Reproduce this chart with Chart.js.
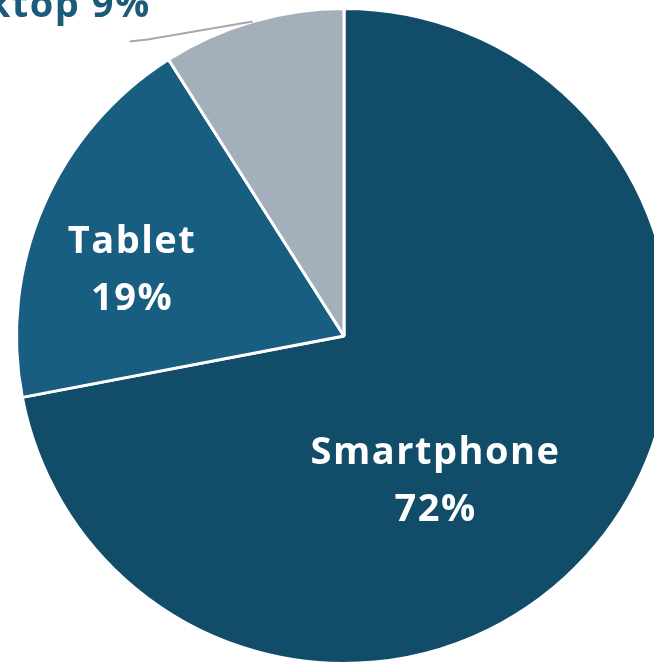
<!DOCTYPE html>
<html>
<head>
<meta charset="utf-8">
<script src="https://cdn.jsdelivr.net/npm/chart.js@4.4.1/dist/chart.umd.min.js"></script>
<style>
  html, body { margin: 0; padding: 0; background: #fff; overflow: hidden; width: 654px; height: 662px; }
  #wrap { position: absolute; left: 0; top: 0; width: 688px; height: 672px; }
</style>
</head>
<body>
<div id="wrap"><canvas id="chart-device"></canvas></div>
<script>
const categories = ['Smartphone', 'Tablet', 'Desktop'];
const shares = [72, 19, 9];
const sliceColors = ['#114c69', '#175e80', '#a3afbb'];

// where each label sits: angle (deg clockwise from top) and fraction of radius
const labelPlaces = [
    { angle: 146, dist: 0.50, inside: true },
    { angle: 289.6, dist: 0.687, inside: true },
    { angle: null, dist: 0, inside: false }
];

const sliceLabels = {
    id: 'sliceLabels',
    afterDatasetsDraw(chart) {
        const ctx = chart.ctx;
        const arcs = chart.getDatasetMeta(0).data;
        ctx.save();
        ctx.font = '700 38px "Open Sans", sans-serif';
        ctx.letterSpacing = '1.5px';
        arcs.forEach((arc, i) => {
            const cx = arc.x, cy = arc.y, r = arc.outerRadius;
            const place = labelPlaces[i];
            if (place.inside) {
                const a = place.angle * Math.PI / 180;
                const x = cx + Math.sin(a) * r * place.dist;
                const y = cy - Math.cos(a) * r * place.dist;
                ctx.fillStyle = '#ffffff';
                ctx.textAlign = 'center';
                ctx.textBaseline = 'alphabetic';
                ctx.fillText(categories[i], x, y - 8);
                ctx.fillText(shares[i] + '%', x, y + 49);
            } else {
                const mid = (arc.startAngle + arc.endAngle) / 2;
                const sx = cx + Math.cos(mid) * r;
                const sy = cy + Math.sin(mid) * r;
                const ex = sx - 105, ey = sy + 18;
                ctx.strokeStyle = '#a8a8a8';
                ctx.lineWidth = 2;
                ctx.beginPath();
                ctx.moveTo(sx, sy);
                ctx.lineTo(ex, ey);
                ctx.lineTo(ex - 18, ey + 2);
                ctx.stroke();
                ctx.fillStyle = '#1b5a79';
                ctx.textAlign = 'right';
                ctx.textBaseline = 'alphabetic';
                ctx.fillText(categories[i] + ' ' + shares[i] + '%', ex + 3, ey - 23);
            }
        });
        ctx.restore();
    }
};

new Chart(document.getElementById('chart-device').getContext('2d'), {
    type: 'pie',
    data: {
        labels: categories,
        datasets: [{
            data: shares,
            backgroundColor: sliceColors,
            borderColor: '#ffffff',
            borderWidth: 3
        }]
    },
    options: {
        responsive: true,
        maintainAspectRatio: false,
        animation: false,
        layout: { padding: 7 },
        plugins: {
            legend: { display: false },
            tooltip: { enabled: false }
        }
    },
    plugins: [sliceLabels]
});
</script>
</body>
</html>
